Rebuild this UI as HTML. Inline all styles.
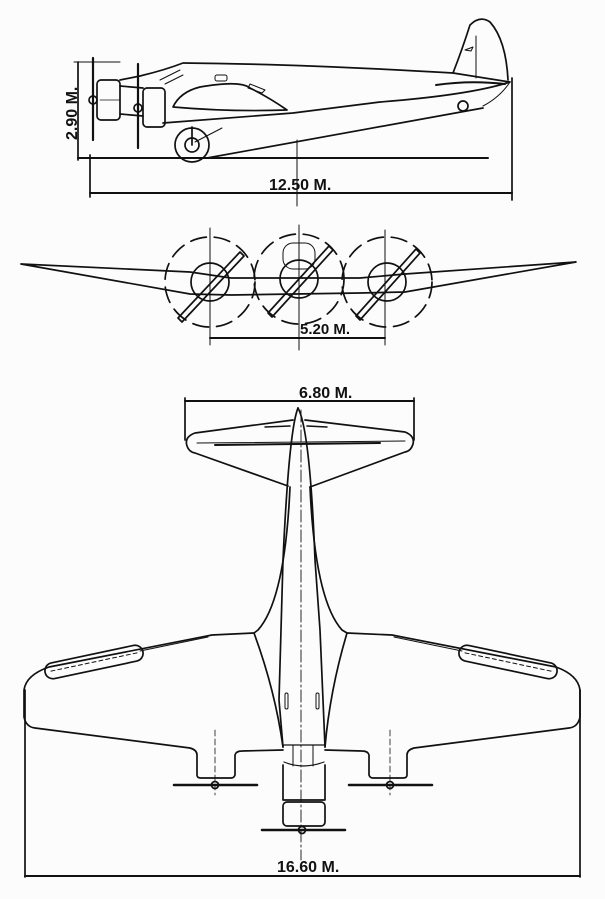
<!DOCTYPE html>
<html><head><meta charset="utf-8"><style>
html,body{margin:0;padding:0;background:#fff;}
svg{display:block}
text{font-family:"Liberation Sans",sans-serif;font-weight:bold;fill:#111}
</style></head><body>
<svg width="605" height="899" viewBox="0 0 605 899" xmlns="http://www.w3.org/2000/svg">
<rect width="605" height="899" fill="#fcfcfc"/>
<g fill="none" stroke="#111" stroke-width="1.7" stroke-linejoin="round" stroke-linecap="round">
<!-- SIDE VIEW -->
<line x1="78" y1="62" x2="78" y2="160" />
<line x1="74" y1="62" x2="120" y2="62" stroke-width="1"/>
<line x1="78" y1="158" x2="488" y2="158" stroke-width="2"/>
<line x1="90" y1="155" x2="90" y2="197"/>
<line x1="512" y1="78" x2="512" y2="200"/>
<line x1="90" y1="193" x2="512" y2="193" stroke-width="2"/>
<line x1="297" y1="140" x2="297" y2="206" stroke-width="1"/>
<path d="M120,80 L140,76 Q165,70 183,63 Q300,64 453,73 L510,82 Q470,95 380,102 L293,113 Q230,118 163,123"/>
<path d="M207,158 L483,108"/>
<path d="M510,82 Q500,97 483,106" stroke-width="1"/>
<path d="M453,73 Q462,50 470,25 Q480,15 490,22 Q506,40 508,80"/>
<line x1="476" y1="36" x2="476" y2="78" stroke-width="1"/>
<path d="M465,50 l8,-3 l-2,4 z" stroke-width="1"/>
<path d="M436,85 Q470,80 505,84" stroke-width="2"/>
<circle cx="463" cy="106" r="5"/>
<rect x="97" y="80" width="23" height="40" rx="4"/>
<line x1="93" y1="58" x2="93" y2="140" stroke-width="2.2"/>
<circle cx="93" cy="100" r="4"/>
<line x1="100" y1="100" x2="120" y2="100" stroke-width="0.8"/>
<rect x="143" y="88" width="22" height="39" rx="4"/>
<line x1="120" y1="86" x2="143" y2="88"/>
<line x1="120" y1="114" x2="143" y2="116"/>
<line x1="138" y1="64" x2="138" y2="148" stroke-width="2.2"/>
<circle cx="138" cy="108" r="4"/>
<path d="M173,107 Q180,92 200,87 Q240,80 250,88 Q270,98 287,110 Q230,112 173,107 Z"/>
<path d="M250,84 l15,6 l-3,3 l-14,-5 z" stroke-width="1"/>
<path d="M160,80 l20,-10 M165,84 l18,-9" stroke-width="1"/>
<rect x="215" y="75" width="12" height="6" rx="2" stroke-width="1"/>
<circle cx="192" cy="145" r="17"/>
<circle cx="192" cy="145" r="7"/>
<line x1="192" y1="127" x2="192" y2="145"/>
<line x1="195" y1="142" x2="222" y2="128" stroke-width="1"/>

<!-- FRONT VIEW -->
<path d="M21,264 L190,272 L231,278 L360,278 L405,274 L576,262 L405,292 L360,293 L231,295 L190,294 Z"/>
<g stroke-dasharray="16,8">
<circle cx="210" cy="282" r="45"/>
<circle cx="299" cy="279" r="45"/>
<circle cx="387" cy="282" r="45"/>
</g>
<circle cx="210" cy="282" r="19"/>
<circle cx="299" cy="279" r="19"/>
<circle cx="387" cy="282" r="19"/>
<rect x="283" y="243" width="32" height="26" rx="10" stroke-width="1"/>
<path d="M178,318 L240,252 L244,256 L182,322 Z"/>
<path d="M268,313 L329,246 L333,250 L272,317 Z"/>
<path d="M356,316 L416,249 L420,253 L360,320 Z"/>
<line x1="210" y1="228" x2="210" y2="345" stroke-width="1"/>
<line x1="299" y1="225" x2="299" y2="350" stroke-width="1"/>
<line x1="385" y1="230" x2="385" y2="345" stroke-width="1"/>
<line x1="210" y1="338" x2="385" y2="338" stroke-width="2"/>

<!-- TOP VIEW -->
<line x1="185" y1="401" x2="414" y2="401" stroke-width="2"/>
<line x1="185" y1="398" x2="185" y2="440"/>
<line x1="414" y1="398" x2="414" y2="440"/>
<path d="M293,420 L195,433 Q184,437 187,446 Q189,452 195,453 L288,486"/>
<path d="M305,420 L405,432 Q415,436 413,444 Q411,451 405,452 L310,487"/>
<line x1="197" y1="443" x2="405" y2="441" stroke-width="1"/>
<line x1="215" y1="445" x2="380" y2="443" stroke-width="2"/>
<line x1="265" y1="427" x2="290" y2="426" stroke-width="1.5"/>
<line x1="307" y1="426" x2="327" y2="427" stroke-width="1.5"/>
<path d="M298,408 Q289,430 283,560 L281,630 L279,700 L283,747"/>
<path d="M298,408 Q310,430 315,560 L320,630 L323,700 L325,747"/>
<path d="M290,487 Q285,600 258,630 L254,633 Q275,690 283,747"/>
<path d="M310,487 Q315,600 342,630 L347,633 Q330,690 325,747"/>
<line x1="301" y1="410" x2="301" y2="860" stroke-width="0.9" stroke-dasharray="12,3,2,3"/>
<path d="M254,633 L212,635 L49,667 Q26,675 24,690 L24,717 Q26,727 35,728 L190,748 Q197,750 197,755 L197,775 Q197,778 201,778 L231,778 Q234,778 235,775 L235,755 Q236,751 242,751 L283,750"/>
<path d="M347,633 L392,635 L556,667 Q578,675 580,690 L580,717 Q578,727 569,728 L414,748 Q407,750 407,755 L407,775 Q407,778 403,778 L373,778 Q370,778 369,775 L369,755 Q368,751 362,751 L325,750"/>
<g transform="rotate(-12 94 662)"><rect x="44" y="654" width="100" height="16" rx="8"/><line x1="50" y1="662" x2="138" y2="662" stroke-dasharray="4,3" stroke-width="1"/></g>
<g transform="rotate(12 508 662)"><rect x="458" y="654" width="100" height="16" rx="8"/><line x1="464" y1="662" x2="552" y2="662" stroke-dasharray="4,3" stroke-width="1"/></g>
<line x1="140" y1="651" x2="208" y2="637" stroke-width="1"/>
<line x1="462" y1="651" x2="394" y2="637" stroke-width="1"/>
<rect x="285" y="693" width="3" height="16" rx="1.5" stroke-width="1"/>
<rect x="316" y="693" width="3" height="16" rx="1.5" stroke-width="1"/>
<path d="M283,745 L325,745 M284,762 Q303,770 324,762" stroke-width="1.2"/>
<line x1="293" y1="745" x2="293" y2="766" stroke-width="1"/>
<line x1="313" y1="745" x2="313" y2="766" stroke-width="1"/>
<path d="M283,765 L283,800 L325,800 L325,765"/>
<rect x="283" y="802" width="42" height="24" rx="4"/>
<line x1="262" y1="830" x2="345" y2="830" stroke-width="2.5"/>
<circle cx="302" cy="830" r="3.5"/>
<line x1="174" y1="785" x2="257" y2="785" stroke-width="2.5"/>
<circle cx="215" cy="785" r="3.5"/>
<line x1="349" y1="785" x2="432" y2="785" stroke-width="2.5"/>
<circle cx="390" cy="785" r="3.5"/>
<line x1="215" y1="730" x2="215" y2="795" stroke-width="0.8" stroke-dasharray="6,3"/>
<line x1="390" y1="730" x2="390" y2="795" stroke-width="0.8" stroke-dasharray="6,3"/>
<line x1="25" y1="690" x2="25" y2="877"/>
<line x1="580" y1="690" x2="580" y2="877"/>
<line x1="25" y1="876" x2="580" y2="876" stroke-width="2"/>
</g>
<text x="0" y="0" font-size="16" transform="translate(77,140) rotate(-90)">2.90 M.</text>
<text x="269" y="190" font-size="16">12.50 M.</text>
<text x="300" y="334" font-size="15">5.20 M.</text>
<text x="299" y="398" font-size="16">6.80 M.</text>
<text x="277" y="872" font-size="16">16.60 M.</text>
</svg>
</body></html>
